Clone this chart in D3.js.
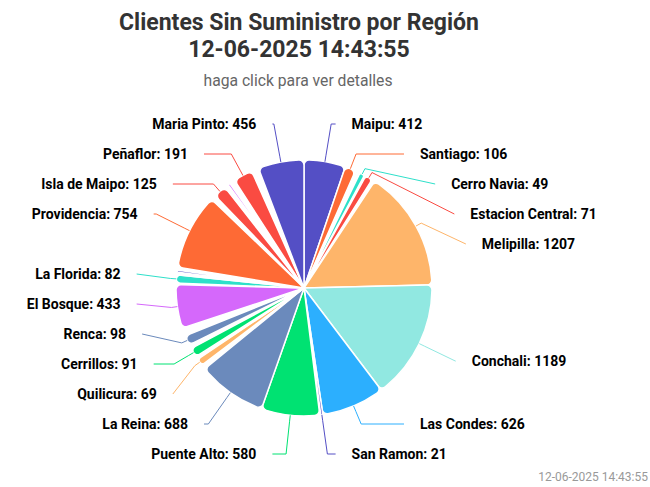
<!DOCTYPE html>
<html>
<head>
<meta charset="utf-8">
<script src="https://cdn.jsdelivr.net/npm/d3@7"></script>
<style>
  body { margin: 0; background: #fff; }
  svg { display: block; font-family: Roboto, "Noto Sans", sans-serif; }
</style>
</head>
<body>
<div id="chart-area"></div>
<script>

// Slices clockwise from 12 o'clock. null = slice drawn without a label
var categories = [
    "Maipu", "Santiago", null, null, null, "Cerro Navia", null, "Estacion Central", null,
    "Melipilla", "Conchali", "Las Condes", "San Ramon", null, "Puente Alto", "La Reina",
    null, null, null, "Quilicura", null, null, null, "Cerrillos", null, "Renca", null,
    "El Bosque", null, "La Florida", null, null, null, null, "Providencia", null,
    "Isla de Maipo", null, null, null, "Peñaflor", null, null, null, null, "Maria Pinto"
];
var values = [
    412, 106, 20, 15, 15, 49, 15, 71, 30,
    1207, 1189, 626, 21, 10, 580, 688,
    25, 12, 10, 69, 10, 12, 10, 91, 40, 98, 81,
    433, 15, 82, 10, 15, 20, 30, 754, 50,
    125, 40, 22, 55, 191, 25, 12, 15, 20, 456
];
// fill per slice ("none" = empty wedge)
var sliceColors = [
    "#544fc5", "#fe6a35", "none", "#2ee0ca", "none", "#2ee0ca", "none", "#fa4b42", "none",
    "#feb56a", "#91e8e1", "#2caffe", "#544fc5", "none", "#00e272", "#6b8abc",
    "none", "#fa4b42", "none", "#feb56a", "none", "#91e8e1", "none", "#00e272", "none", "#6b8abc", "none",
    "#d568fb", "none", "#2ee0ca", "#feb56a", "none", "#544fc5", "none", "#fe6a35", "none",
    "#fa4b42", "none", "#d568fb", "none", "#fa4b42", "none", "#feb56a", "#2caffe", "none", "#544fc5"
];

var titleLines = ["Clientes Sin Suministro por Región", "12-06-2025 14:43:55"];
var subtitle = "haga click para ver detalles";
var credit = "12-06-2025 14:43:55";

var width = 650, height = 487;
var cx = 304, cy = 288, radius = 128;
var labelR = 168, labelGap = 30, yMin = 124, yMax = 454;

var svg = d3.select("#chart-area")
    .append("svg")
        .attr("width", width)
        .attr("height", height);

// Title
svg.append("text")
    .attr("x", 299)
    .attr("y", 30)
    .attr("text-anchor", "middle")
    .attr("font-size", "23px")
    .attr("font-weight", "bold")
    .attr("fill", "#333333")
    .selectAll("tspan")
    .data(titleLines)
    .enter().append("tspan")
        .attr("x", 299)
        .attr("dy", function(d, i) { return i === 0 ? 0 : 27; })
        .text(function(d) { return d; });

svg.append("text")
    .attr("x", 298)
    .attr("y", 86)
    .attr("text-anchor", "middle")
    .attr("font-size", "15.7px")
    .attr("fill", "#666666")
    .text(subtitle);

var data = values.map(function(v, i) {
    return { name: categories[i], value: v, key: i };
});

var color = d3.scaleOrdinal()
    .domain(d3.range(values.length))
    .range(sliceColors);

var pie = d3.pie()
    .sort(null)
    .value(function(d) { return d.value; });

var arc = d3.arc()
    .innerRadius(0)
    .outerRadius(radius)
    .cornerRadius(5);

var arcs = pie(data);

var g = svg.append("g")
    .attr("transform", "translate(" + cx + "," + cy + ")");

g.selectAll("path.slice")
    .data(arcs.filter(function(d) { return color(d.data.key) !== "none"; }))
    .enter().append("path")
        .attr("class", "slice")
        .attr("d", arc)
        .attr("fill", function(d) { return color(d.data.key); })
        .attr("stroke", "#ffffff")
        .attr("stroke-width", 1.5)
        .attr("stroke-linejoin", "round");

// Labels
var labeled = arcs.filter(function(d) { return d.data.name; });
labeled.forEach(function(d) {
    d.mid = (d.startAngle + d.endAngle) / 2;
    d.right = d.mid < Math.PI;
    d.ny = cy - labelR * Math.cos(d.mid);
});

[true, false].forEach(function(side) {
    var list = labeled.filter(function(d) { return d.right === side; })
        .sort(function(a, b) { return a.ny - b.ny; });
    var prev = -Infinity;
    list.forEach(function(d) {
        d.ly = Math.max(d.ny, prev + labelGap, yMin);
        prev = d.ly;
    });
    var next = Infinity;
    for (var i = list.length - 1; i >= 0; i--) {
        list[i].ly = Math.min(list[i].ly, next - labelGap, yMax);
        next = list[i].ly;
    }
});

function polar(a, r) {
    return [cx + r * Math.sin(a), cy - r * Math.cos(a)];
}

labeled.forEach(function(d) {
    var dy = d.ly - (cy + 1);
    var dx = Math.sqrt(Math.max(0, labelR * labelR - dy * dy));
    d.ax = d.right ? cx + dx : cx - dx;
    var touch = polar(d.mid, radius);
    var brk = polar(d.mid, radius + 6);
    var crookX = cx + (cy - d.ly) * Math.tan(d.mid);
    var pts = [[d.ax, d.ly]];
    if (d.right ? (crookX <= d.ax && crookX >= brk[0]) : (crookX >= d.ax && crookX <= brk[0])) {
        pts.push([crookX, d.ly]);
    }
    pts.push(brk, touch);
    d.path = pts;
});

svg.append("g")
    .selectAll("path")
    .data(labeled)
    .enter().append("path")
        .attr("d", function(d) { return d3.line()(d.path); })
        .attr("fill", "none")
        .attr("stroke", function(d) { return color(d.data.key); })
        .attr("stroke-width", 1);

svg.append("g")
    .selectAll("text")
    .data(labeled)
    .enter().append("text")
        .attr("x", function(d) { return d.right ? d.ax + 16 : d.ax - 16; })
        .attr("y", function(d) { return d.ly; })
        .attr("dy", "0.35em")
        .attr("text-anchor", function(d) { return d.right ? "start" : "end"; })
        .attr("font-size", "14px")
        .attr("font-weight", "bold")
        .attr("fill", "#000000")
        .text(function(d) { return d.data.name + ": " + d.data.value; });

// Credit
svg.append("text")
    .attr("x", 648)
    .attr("y", 481)
    .attr("text-anchor", "end")
    .attr("font-size", "12px")
    .attr("fill", "#999999")
    .text(credit);

</script>
</body>
</html>
